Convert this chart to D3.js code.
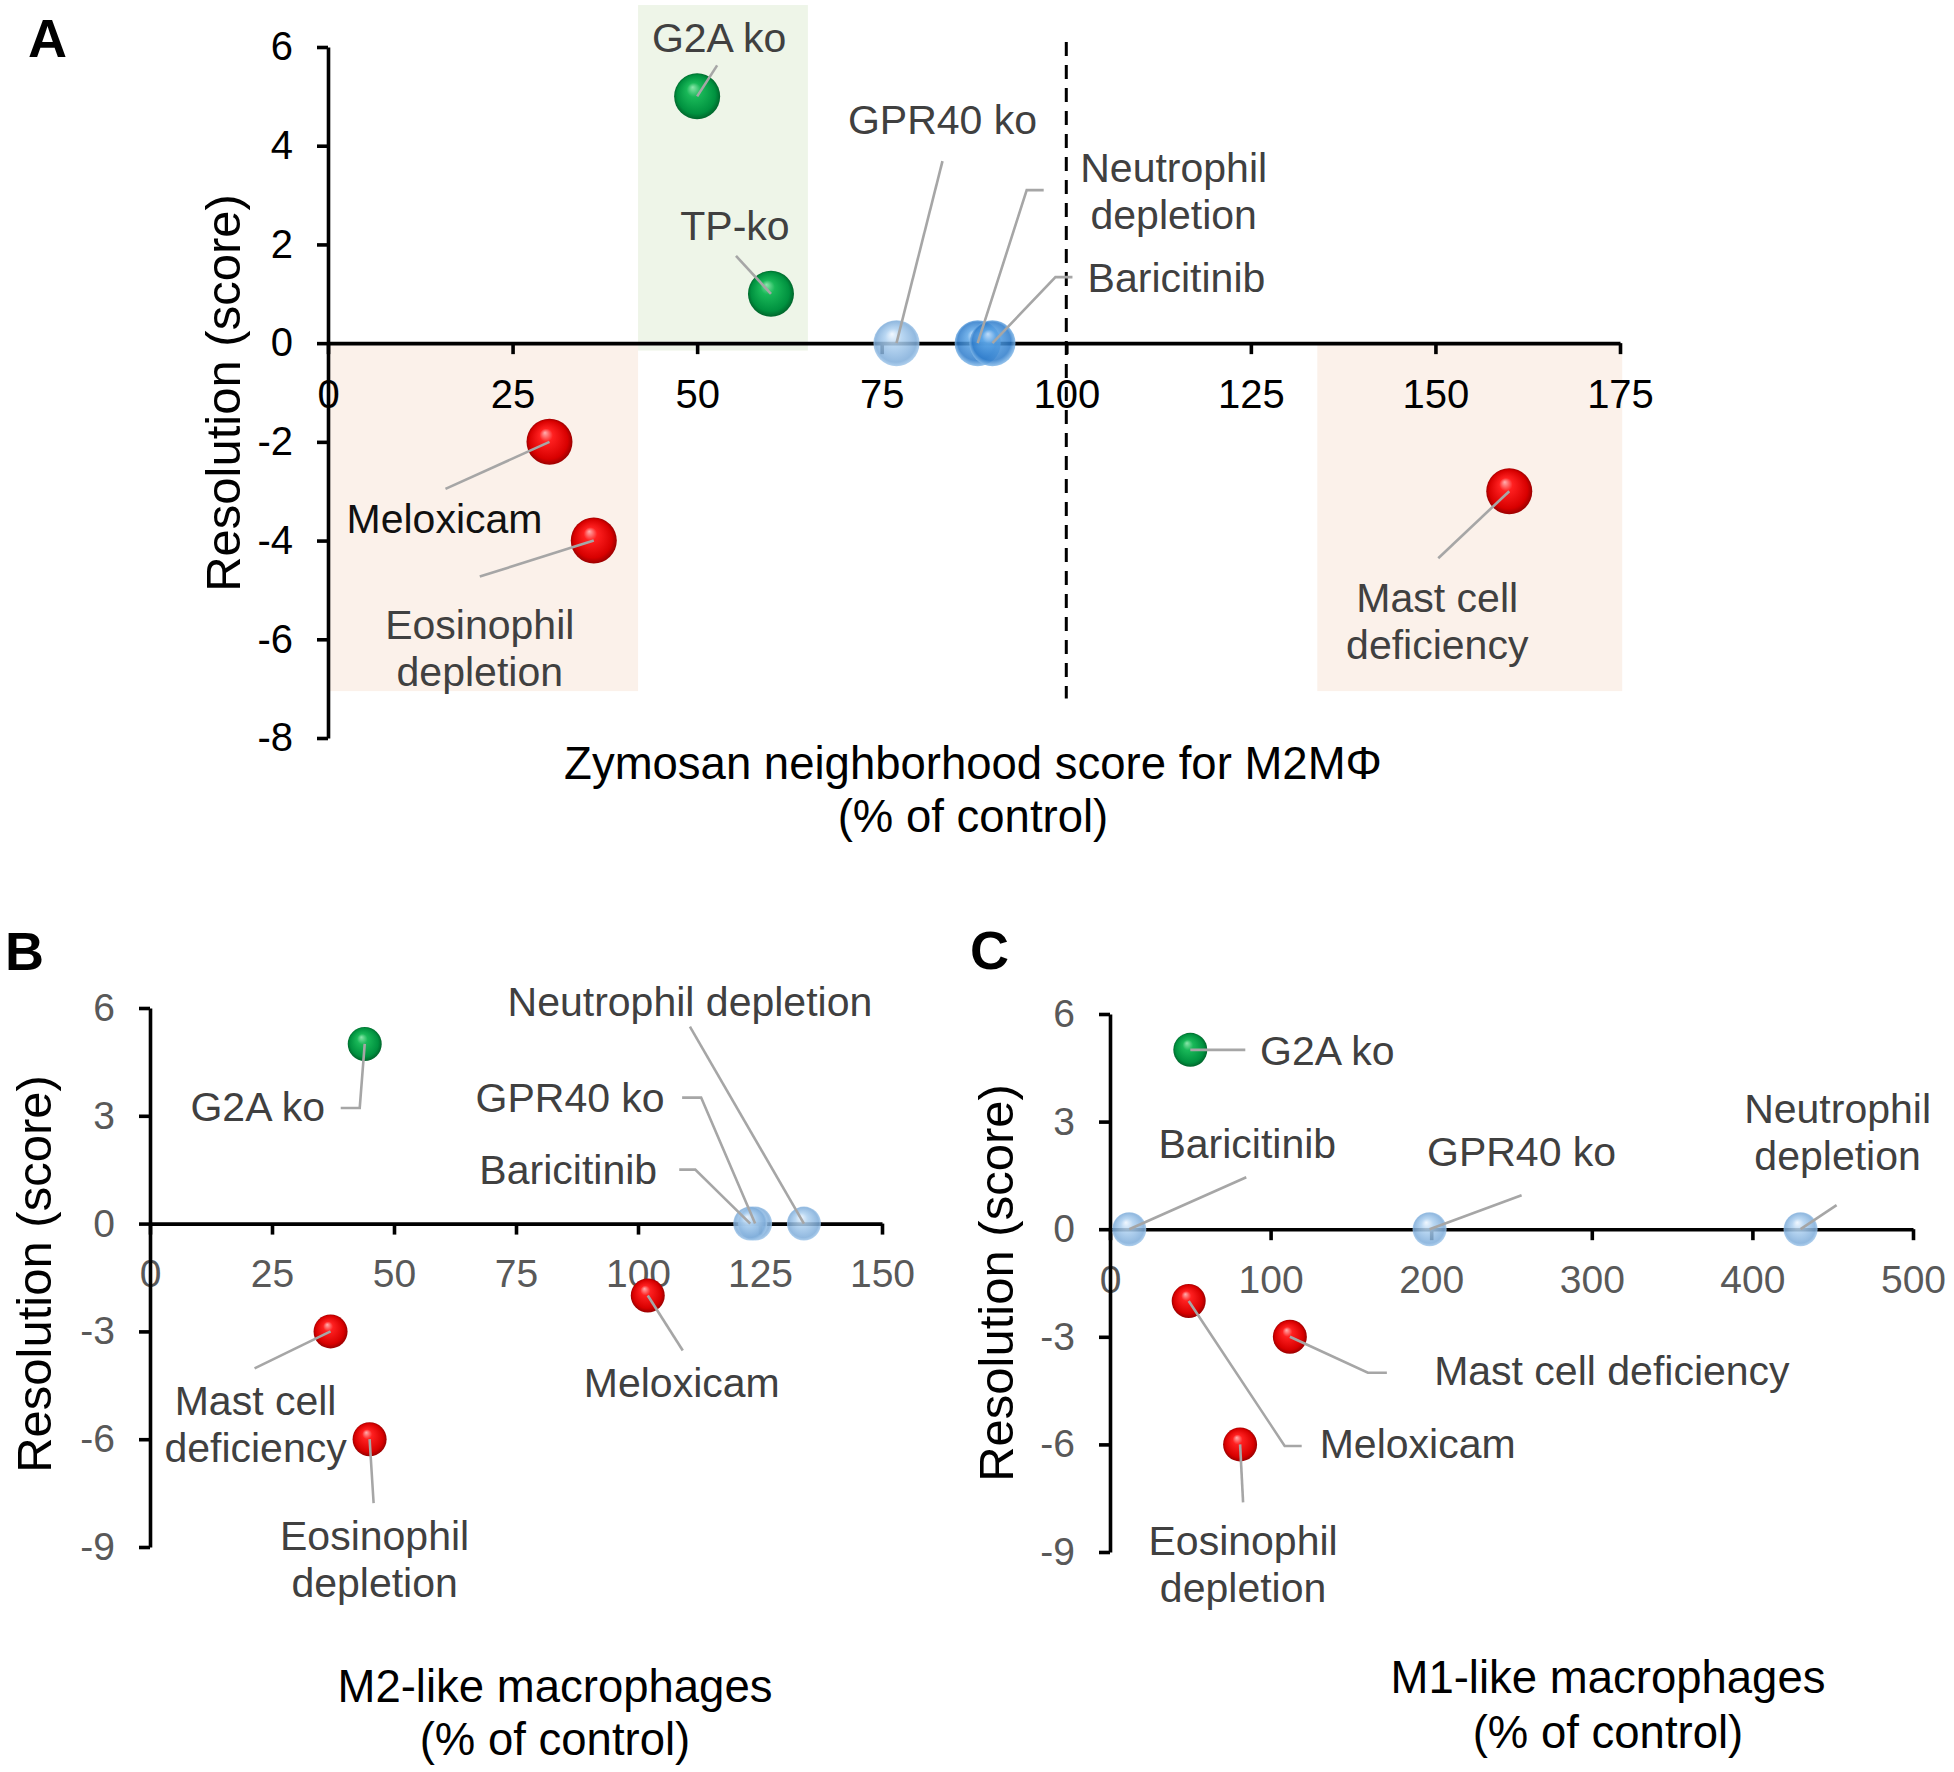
<!DOCTYPE html>
<html>
<head>
<meta charset="utf-8">
<script src="https://cdn.jsdelivr.net/npm/d3@7"></script>
<style>
  body { margin: 0; background: #fff; }
  svg { display: block; font-family: Arial, "Liberation Sans", sans-serif; }
</style>
</head>
<body>
<div id="chart"></div>
<script>
// ---- panel A : zymosan neighborhood score vs resolution
const namesA = ["G2A ko", "TP-ko", "GPR40 ko", "Neutrophil depletion", "Baricitinib", "Meloxicam", "Eosinophil depletion", "Mast cell deficiency"];
const xA = [50, 60, 77, 88, 90, 30, 36, 160];
const yA = [5, 1, 0, 0, 0, -2, -4, -3];
const kindA = ["green", "green", "lightblue", "blue", "blue", "red", "red", "red"];
const ticksAx = [0, 25, 50, 75, 100, 125, 150, 175];
const ticksAy = [-8, -6, -4, -2, 0, 2, 4, 6];
// shaded areas in data units [x0, x1, y0, y1]
const shadeA = [[42, 65, -0.15, 6.85], [0, 42, -7.05, 0], [134, 175.3, -7.05, 0]];
const controlA = 100;

// ---- panel B : M2-like macrophages
const namesB = ["G2A ko", "GPR40 ko", "Baricitinib", "Neutrophil depletion", "Meloxicam", "Mast cell deficiency", "Eosinophil depletion"];
const xB = [44, 124, 123, 134, 102, 37, 45];
const yB = [5, 0, 0, 0, -2, -3, -6];
const kindB = ["green", "lightblue", "lightblue", "lightblue", "red", "red", "red"];
const ticksBx = [0, 25, 50, 75, 100, 125, 150];
const ticksBy = [-9, -6, -3, 0, 3, 6];

// ---- panel C : M1-like macrophages
const namesC = ["G2A ko", "GPR40 ko", "Baricitinib", "Neutrophil depletion", "Meloxicam", "Mast cell deficiency", "Eosinophil depletion"];
const xC = [50, 199, 12, 430, 49, 112, 81];
const yC = [5, 0, 0, 0, -2, -3, -6];
const kindC = ["green", "lightblue", "lightblue", "lightblue", "red", "red", "red"];
const ticksCx = [0, 100, 200, 300, 400, 500];
const ticksCy = [-9, -6, -3, 0, 3, 6];

// label placement, pixel offsets from the marker: t = first baseline, path = leader bends
const labelsA = {
  "G2A ko": { t: [22, -44], path: [[20, -31]] },
  "TP-ko": { t: [-36, -54], path: [[-35, -38]] },
  "GPR40 ko": { t: [46, -209], path: [[46, -182]] },
  "Neutrophil depletion": { lines: ["Neutrophil", "depletion"], t: [196, -161], path: [[49, -153], [66, -153]] },
  "Baricitinib": { t: [184, -51], path: [[63, -66], [80, -66]] },
  "Meloxicam": { t: [-105, 91], path: [[-104, 47]], color: "#111" },
  "Eosinophil depletion": { lines: ["Eosinophil", "depletion"], t: [-114, 98], path: [[-114, 36]] },
  "Mast cell deficiency": { lines: ["Mast cell", "deficiency"], t: [-72, 121], path: [[-71, 67]] }
};
const labelsB = {
  "G2A ko": { t: [-107, 77], path: [[-5, 64], [-24, 64]] },
  "GPR40 ko": { t: [-185, -112], path: [[-54, -126], [-73, -126]] },
  "Baricitinib": { t: [-182, -40], path: [[-55, -54], [-71, -54]] },
  "Neutrophil depletion": { t: [-114, -208], path: [[-114, -197]] },
  "Meloxicam": { t: [34, 102], path: [[35, 55]] },
  "Mast cell deficiency": { lines: ["Mast cell", "deficiency"], t: [-75, 84], path: [[-76, 37]] },
  "Eosinophil depletion": { lines: ["Eosinophil", "depletion"], t: [5, 111], path: [[4, 64]] }
};
const labelsC = {
  "G2A ko": { t: [137, 15], path: [[55, 0]] },
  "Baricitinib": { t: [118, -71], path: [[117, -52]] },
  "GPR40 ko": { t: [92, -63], path: [[92, -34]] },
  "Neutrophil depletion": { lines: ["Neutrophil", "depletion"], t: [37, -106], path: [[36, -24]] },
  "Mast cell deficiency": { t: [322, 48], path: [[78, 36], [97, 36]] },
  "Meloxicam": { t: [229, 157], path: [[96, 145], [113, 145]] },
  "Eosinophil depletion": { lines: ["Eosinophil", "depletion"], t: [3, 111], path: [[3, 58]] }
};

const W = 1954, H = 1772;
const svg = d3.select("#chart").append("svg").attr("width", W).attr("height", H);
svg.append("rect").attr("width", W).attr("height", H).attr("fill", "#fff");

// sphere look
const defs = svg.append("defs");
const grads = {
  green: [["0%", "#8be6aa"], ["30%", "#19b858"], ["80%", "#00913f"], ["100%", "#005e28"]],
  red: [["0%", "#ffb0b0"], ["28%", "#ff2020"], ["80%", "#d80000"], ["100%", "#900000"]],
  lightblue: [["0%", "#eef6ff"], ["35%", "#add0f0"], ["85%", "#7fadda"], ["100%", "#a9cdee"]],
  blue: [["0%", "#cfe7ff"], ["30%", "#5aa4e6"], ["80%", "#2e7ccb"], ["100%", "#93c4ee"]]
};
const ballOpacity = { green: 1, red: 1, lightblue: 0.85, blue: 0.85 };
for (const k in grads) {
  const g = defs.append("radialGradient").attr("id", "g-" + k)
    .attr("cx", "50%").attr("cy", "50%").attr("r", "52%")
    .attr("fx", "40%").attr("fy", "30%");
  grads[k].forEach(s => g.append("stop").attr("offset", s[0]).attr("stop-color", s[1]));
}

class Panel {
  constructor(opt) {
    this.opt = opt;
    this.x = d3.scaleLinear().domain(opt.xDomain).range(opt.xRange);
    this.y = d3.scaleLinear().domain(opt.yDomain).range(opt.yRange);
    this.g = svg.append("g");
    this.layout();
  }

  layout() {
    const o = this.opt;
    if (o.shades) this.drawShades();
    this.drawAxes();
    if (o.control !== undefined) this.drawControl();
    this.drawPoints();
    this.drawLabels();
    this.drawTitles();
  }

  drawShades() {
    this.g.append("g").selectAll("rect")
      .data(this.opt.shades)
      .join("rect")
      .attr("x", d => this.x(d[0]))
      .attr("width", d => this.x(d[1]) - this.x(d[0]))
      .attr("y", d => this.y(d[3]))
      .attr("height", d => this.y(d[2]) - this.y(d[3]))
      .attr("fill", (d, i) => this.opt.shadeColors[i]);
  }

  drawAxes() {
    const o = this.opt;
    var x_axis = d3.axisBottom(this.x)
      .tickValues(o.xTicks)
      .tickSize(11)
      .tickSizeOuter(0)
      .tickPadding(25)
      .tickFormat(d3.format("d"));
    var y_axis = d3.axisLeft(this.y)
      .tickValues(o.yTicks)
      .tickSize(11)
      .tickSizeOuter(0)
      .tickPadding(24)
      .tickFormat(d3.format("d"));

    const gx = this.g.append("g")
      .attr("transform", "translate(0," + this.y(0) + ")")
      .call(x_axis);
    const gy = this.g.append("g")
      .attr("transform", "translate(" + this.x(0) + ",0)")
      .call(y_axis);

    [gx, gy].forEach(a => {
      a.attr("font-family", null).attr("font-size", null);
      a.select(".domain").attr("stroke", "#000").attr("stroke-width", 3.6);
      a.selectAll(".tick line").attr("stroke", "#000").attr("stroke-width", 3.6);
      a.selectAll(".tick text")
        .attr("fill", o.tickColor)
        .style("font-size", o.tickFont + "px")
        .style("font-family", "Arial, 'Liberation Sans', sans-serif");
    });
    // plain hyphen for negatives, like the original
    gy.selectAll(".tick text").text(d => String(d));
  }

  drawControl() {
    const o = this.opt;
    this.g.append("line")
      .attr("x1", this.x(o.control)).attr("x2", this.x(o.control))
      .attr("y1", this.y(6.1)).attr("y2", this.y(-7.2))
      .attr("stroke", "#000")
      .attr("stroke-width", 3)
      .attr("stroke-dasharray", "14,9");
  }

  drawPoints() {
    const o = this.opt;
    const pts = o.names.map((n, i) => ({ name: n, x: o.xs[i], y: o.ys[i], kind: o.kinds[i] }));
    this.pts = pts;
    this.g.append("g").selectAll("circle")
      .data(pts)
      .join("circle")
      .attr("cx", d => this.x(d.x))
      .attr("cy", d => this.y(d.y))
      .attr("r", o.r)
      .attr("fill", d => "url(#g-" + d.kind + ")")
      .attr("fill-opacity", d => ballOpacity[d.kind]);
  }

  drawLabels() {
    const o = this.opt;
    const lg = this.g.append("g");
    this.pts.forEach(d => {
      const lab = o.labels[d.name];
      if (!lab) return;
      const cx = this.x(d.x), cy = this.y(d.y);
      const pts = [[cx, cy]].concat(lab.path.map(p => [cx + p[0], cy + p[1]]));
      lg.append("path")
        .attr("d", d3.line()(pts))
        .attr("fill", "none")
        .attr("stroke", "#a6a6a6")
        .attr("stroke-width", 2.6);
      const lines = lab.lines || [d.name];
      lines.forEach((t, i) => {
        lg.append("text")
          .attr("x", cx + lab.t[0])
          .attr("y", cy + lab.t[1] + i * 47)
          .attr("text-anchor", "middle")
          .attr("fill", lab.color || "#404040")
          .style("font-size", "41px")
          .text(t);
      });
    });
  }

  drawTitles() {
    const o = this.opt;
    this.g.append("text")
      .attr("transform", "translate(" + o.yTitle[0] + "," + o.yTitle[1] + ") rotate(-90)")
      .attr("text-anchor", "middle")
      .style("font-size", "49px")
      .text("Resolution (score)");
    o.xTitle.lines.forEach((t, i) => {
      this.g.append("text")
        .attr("x", o.xTitle.x)
        .attr("y", o.xTitle.y[i])
        .attr("text-anchor", "middle")
        .style("font-size", "45.5px")
        .text(t);
    });
    this.g.append("text")
      .attr("x", o.letter[0]).attr("y", o.letter[1])
      .style("font-size", "54px")
      .style("font-weight", "bold")
      .text(o.letter[2]);
  }
}

new Panel({
  names: namesA, xs: xA, ys: yA, kinds: kindA, labels: labelsA,
  xDomain: [0, 175], yDomain: [-8, 6], xRange: [328, 1620], yRange: [738, 47],
  xTicks: ticksAx, yTicks: ticksAy, tickColor: "#000", tickFont: 40, r: 23,
  shades: shadeA, shadeColors: ["#eef5e8", "#fbf1ea", "#fbf1ea"], control: controlA,
  yTitle: [240, 393],
  xTitle: { x: 973, y: [779, 832], lines: ["Zymosan neighborhood score for M2M\u03A6", "(% of control)"] },
  letter: [28, 57, "A"]
});

new Panel({
  names: namesB, xs: xB, ys: yB, kinds: kindB, labels: labelsB,
  xDomain: [0, 150], yDomain: [-9, 6], xRange: [150, 882], yRange: [1547, 1008],
  xTicks: ticksBx, yTicks: ticksBy, tickColor: "#595959", tickFont: 39, r: 17,
  yTitle: [51, 1274],
  xTitle: { x: 555, y: [1702, 1755], lines: ["M2-like macrophages", "(% of control)"] },
  letter: [5, 970, "B"]
});

new Panel({
  names: namesC, xs: xC, ys: yC, kinds: kindC, labels: labelsC,
  xDomain: [0, 500], yDomain: [-9, 6], xRange: [1110, 1913], yRange: [1552, 1014],
  xTicks: ticksCx, yTicks: ticksCy, tickColor: "#595959", tickFont: 39, r: 17,
  yTitle: [1013, 1283],
  xTitle: { x: 1608, y: [1693, 1748], lines: ["M1-like macrophages", "(% of control)"] },
  letter: [970, 969, "C"]
});
</script>
</body>
</html>
